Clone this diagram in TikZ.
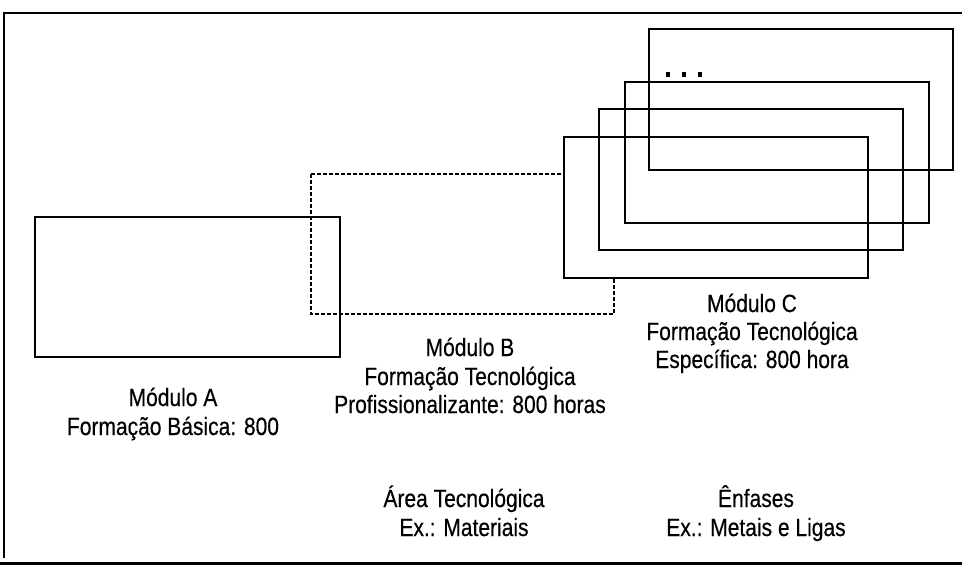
\documentclass[tikz,border=0pt]{standalone}
\usepackage{fontspec}
\setmainfont[FakeStretch=0.84, FakeBold=0.4]{Liberation Sans}

\tikzset{
  modbox/.style={line width=2pt},
  trackbox/.style={line width=2pt, dash pattern=on 4pt off 2pt},
  lbl/.style={anchor=base, inner sep=0pt, font=\fontsize{25}{28}\selectfont},
}

\begin{document}
\begin{tikzpicture}[x=1pt, y=-1pt]
\useasboundingbox (0,0) rectangle (962,576);

% ============================================================
%  frame
% ============================================================
\draw[line width=1.8pt] (962,13) -- (4,13) -- (4,558);
\draw[line width=3pt] (0,563) -- (962,563);

% ============================================================
%  Modulo A / Modulo B
% ============================================================
\draw[modbox] (35,217) rectangle (340,357);
% dashed box B, hidden behind the front box of C
\draw[trackbox] (311,174) rectangle (614,314);

% ============================================================
%  Modulo C  --  stack of boxes, front one covers B
% ============================================================
\fill[white] (564,137) rectangle (868,277);
\foreach \x/\y in {649/29, 625/82, 599/109, 564/137}
  \draw[modbox] (\x,\y) rectangle ++(304,141);
% ellipsis above the stack
\foreach \x in {668, 684, 700}
  \fill (\x-1.6,72) rectangle (\x+1.6,76.5);

% ============================================================
%  labels
% ============================================================
\node[lbl] (modA)   at (173,406) {Módulo A};
\node[lbl] (modAsub) at (173,435) {Formação Básica: 800};

\node[lbl] (modB)   at (470,356) {Módulo B};
\node[lbl] (modBsub) at (470,385) {Formação Tecnológica};
\node[lbl] (modBhrs) at (470,413) {Profissionalizante: 800 horas};

\node[lbl] (modC)   at (752,312) {Módulo C};
\node[lbl] (modCsub) at (752,340) {Formação Tecnológica};
\node[lbl] (modChrs) at (752,368) {Específica: 800 hora};

\node[lbl] (area)   at (464,507) {Área Tecnológica};
\node[lbl] (areaEx) at (464,536) {Ex.: Materiais};
\node[lbl] (enf)    at (756,507) {Ênfases};
\node[lbl] (enfEx)  at (756,536) {Ex.: Metais e Ligas};

\end{tikzpicture}
\end{document}
